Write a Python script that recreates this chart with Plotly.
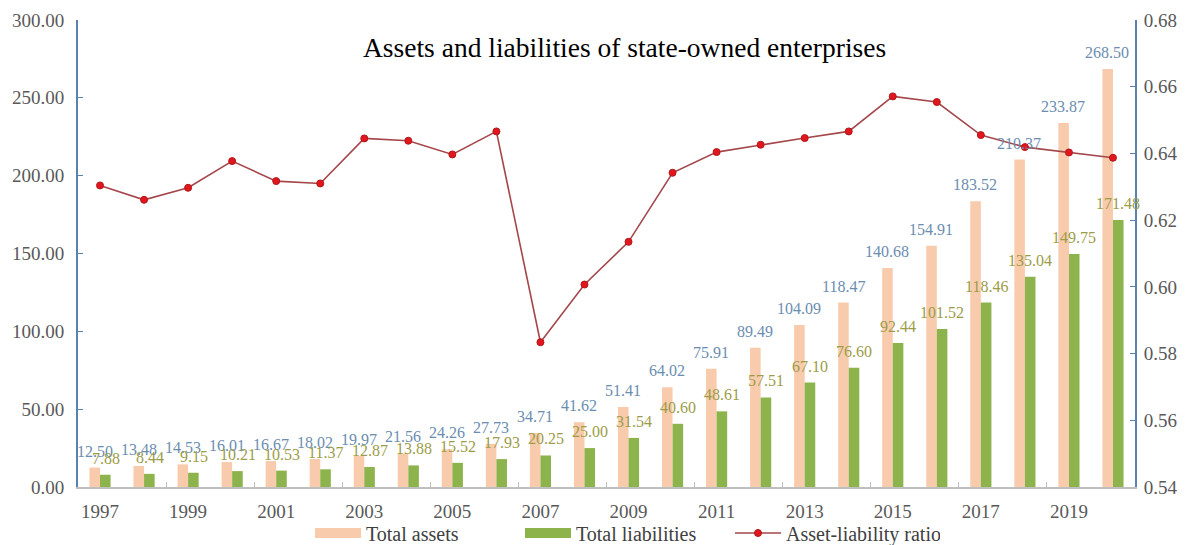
import plotly.graph_objects as go

years = [str(y) for y in range(1997, 2021)]
tick_years = [str(y) for y in range(1997, 2021, 2)]
total_assets = [12.50, 13.48, 14.53, 16.01, 16.67, 18.02, 19.97, 21.56, 24.26, 27.73,
                34.71, 41.62, 51.41, 64.02, 75.91, 89.49, 104.09, 118.47, 140.68, 154.91,
                183.52, 210.37, 233.87, 268.50]
total_liabilities = [7.88, 8.44, 9.15, 10.21, 10.53, 11.37, 12.87, 13.88, 15.52, 17.93,
                     20.25, 25.00, 31.54, 40.60, 48.61, 57.51, 67.10, 76.60, 92.44, 101.52,
                     118.46, 135.04, 149.75, 171.48]
ratio = [0.6304, 0.6261, 0.6297, 0.6377, 0.6317, 0.6310, 0.6445, 0.6438, 0.6397, 0.6466,
         0.5834, 0.6007, 0.6135, 0.6342, 0.6404, 0.6426, 0.6446, 0.6466, 0.6571, 0.6554,
         0.6455, 0.6419, 0.6403, 0.6387]

FONT = "Liberation Serif"
C_ASSET = "#F8CBAD"
C_LIAB = "#8DB34C"
C_ASSET_TXT = "#6A8DB0"
C_LIAB_TXT = "#9C9C48"
C_AXIS = "#5A82AE"

n = len(years)
boundary_ticks = [i + 0.5 for i in range(1, n - 1, 2)]

fig = go.Figure()
fig.add_trace(go.Bar(x=years, y=total_assets, name="Total assets", showlegend=False,
                     legendgroup="a", marker=dict(color=C_ASSET, line=dict(width=0))))
fig.add_trace(go.Bar(x=years, y=total_liabilities, name="Total liabilities", showlegend=False,
                     legendgroup="l", marker=dict(color=C_LIAB, line=dict(width=0))))
# legend entries drawn as wide swatches (no data points)
fig.add_trace(go.Scatter(x=[None], y=[None], mode="lines", name="Total assets",
                         legendgroup="a", line=dict(color=C_ASSET, width=10)))
fig.add_trace(go.Scatter(x=[None], y=[None], mode="lines", name="Total liabilities",
                         legendgroup="l", line=dict(color=C_LIAB, width=10)))
fig.add_trace(go.Scatter(x=years, y=ratio, name="Asset-liability ratio", yaxis="y2",
                         mode="lines+markers",
                         line=dict(color="#A4474B", width=1.6),
                         marker=dict(color="#E3151F", size=7,
                                     line=dict(color="#B01818", width=1))))
# empty trace that carries the boundary-tick axis
fig.add_trace(go.Scatter(x=[None], y=[None], xaxis="x2", showlegend=False,
                         hoverinfo="skip", mode="markers"))

annotations = []
# category axis: annotation x given as the category's index
for i, v in enumerate(total_assets):
    annotations.append(dict(x=i, y=v, xref="x", yref="y", text=f"{v:.2f}",
                            showarrow=False, xshift=-5.5, yshift=6, yanchor="bottom",
                            font=dict(family=FONT, size=16, color=C_ASSET_TXT)))
for i, v in enumerate(total_liabilities):
    annotations.append(dict(x=i, y=v, xref="x", yref="y", text=f"{v:.2f}",
                            showarrow=False, xshift=5.5, yshift=6, yanchor="bottom",
                            font=dict(family=FONT, size=16, color=C_LIAB_TXT)))
annotations.append(dict(x=0.5175, y=0.942, xref="paper", yref="paper",
                        text="Assets and liabilities of state-owned enterprises",
                        showarrow=False, xanchor="center", yanchor="middle",
                        font=dict(family=FONT, size=27.5, color="#000000")))

fig.update_layout(
    width=1193, height=545,
    margin=dict(l=78, r=58, t=20, b=58),
    paper_bgcolor="white", plot_bgcolor="white",
    barmode="group", bargap=0.52, bargroupgap=0,
    font=dict(family=FONT, size=19, color="#595959"),
    showlegend=True,
    legend=dict(orientation="h", x=0.5175, xanchor="center",
                yref="container", y=0.022, yanchor="middle",
                font=dict(family=FONT, size=20, color="#404040"),
                itemwidth=46, entrywidth=149, entrywidthmode="pixels",
                bgcolor="rgba(0,0,0,0)"),
    xaxis=dict(type="category", categoryorder="array", categoryarray=years,
               range=[-0.5, n - 0.5],
               tickmode="array", tickvals=tick_years, ticktext=tick_years,
               ticks="", automargin=False,
               showline=True, linecolor="#BFBFBF", linewidth=1.5,
               showgrid=False, zeroline=False, ticklabelstandoff=6,
               tickfont=dict(family=FONT, size=19, color="#595959")),
    xaxis2=dict(overlaying="x", anchor="y", side="bottom", type="linear",
                range=[-0.5, n - 0.5], tickmode="array", tickvals=boundary_ticks,
                showticklabels=False, ticks="inside", ticklen=5, tickwidth=1,
                tickcolor="#BFBFBF", showline=False, showgrid=False,
                zeroline=False, automargin=False),
    yaxis=dict(range=[0, 300], dtick=50, tickformat=".2f", showgrid=False,
               zeroline=False, showline=True, linecolor=C_AXIS, linewidth=2,
               ticks="inside", ticklen=5, tickcolor=C_AXIS, ticklabelstandoff=8,
               automargin=False,
               tickfont=dict(family=FONT, size=19, color="#595959")),
    yaxis2=dict(range=[0.54, 0.68], dtick=0.02, tickformat=".2f", overlaying="y",
                side="right", showgrid=False, zeroline=False, showline=True,
                linecolor=C_AXIS, linewidth=2, ticks="inside", ticklen=5,
                tickcolor=C_AXIS, ticklabelstandoff=3, automargin=False,
                tickfont=dict(family=FONT, size=19, color="#595959")),
    annotations=annotations,
)

fig.write_html("out.html", config={"displayModeBar": False},
               post_script="document.body.style.margin='0';")
